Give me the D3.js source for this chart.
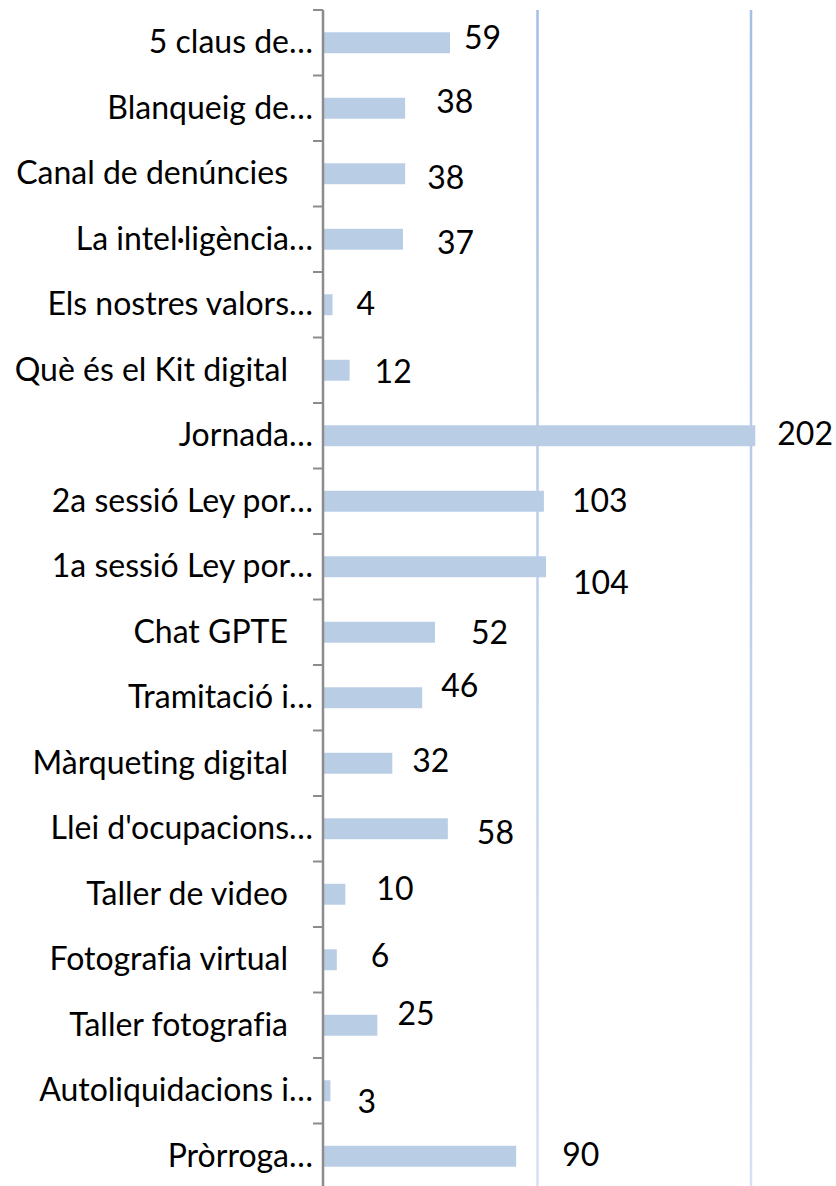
<!DOCTYPE html>
<html>
<head>
<meta charset="utf-8">
<script src="https://cdn.jsdelivr.net/npm/d3@7"></script>
<style>
  body { margin: 0; background: #fff; }
  text { font-family: Lato, "Open Sans", sans-serif; fill: #000; font-variant-ligatures: none; }
</style>
</head>
<body>
<div id="chart"></div>
<script>
// Categories, top to bottom
const categories = [
  "5 claus de…",
  "Blanqueig de…",
  "Canal de denúncies ",
  "La intel·ligència…",
  "Els nostres valors…",
  "Què és el Kit digital ",
  "Jornada…",
  "2a sessió Ley por…",
  "1a sessió Ley por…",
  "Chat GPTE ",
  "Tramitació i…",
  "Màrqueting digital ",
  "Llei d'ocupacions…",
  "Taller de video ",
  "Fotografia virtual ",
  "Taller fotografia ",
  "Autoliquidacions i…",
  "Pròrroga…"
];

// Attendees per session
const values = [59, 38, 38, 37, 4, 12, 202, 103, 104, 52, 46, 32, 58, 10, 6, 25, 3, 90];

// Gridline values on the x axis
const gridValues = [100, 200];

// Hand-moved data labels: gap after bar end, baseline shift from bar centre (px)
const labelDx = [14, 31, 22, 34, 24, 25, 22, 28, 27, 36, 19, 20, 29, 31, 34, 20, 27, 46];
const labelDy = [6, 5, 15, 15, 10, 13, 9, 11, 27, 12, -1, 9, 15, 6, 7, 0, 22, 10];

const width = 836;
const height = 1186;
const fontSize = 32;

const svg = d3.select('#chart')
  .append('svg')
  .attr('width', width)
  .attr('height', height);

const x = d3.scaleLinear()
  .domain([0, 200])
  .range([324, 751]);

const y = d3.scaleBand()
  .domain(categories)
  .range([10, 1189])
  .paddingInner(0.68)
  .paddingOuter(0.34);

const step = y.step();

// gridlines fade towards the bottom
const defs = svg.append('defs');
const grad = defs.append('linearGradient')
  .attr('id', 'gridFade')
  .attr('gradientUnits', 'userSpaceOnUse')
  .attr('x1', 0).attr('y1', 10)
  .attr('x2', 0).attr('y2', 1189);
grad.append('stop').attr('offset', '0%').attr('stop-color', '#a6bee6');
grad.append('stop').attr('offset', '100%').attr('stop-color', '#d6e1f3');

svg.append('g')
  .selectAll('rect')
  .data(gridValues)
  .join('rect')
  .attr('x', d => x(d) - 1.25)
  .attr('y', 10)
  .attr('width', 2.5)
  .attr('height', 1179)
  .attr('fill', 'url(#gridFade)');

// bars
svg.append('g')
  .selectAll('rect')
  .data(values)
  .join('rect')
  .attr('x', x(0))
  .attr('y', (d, i) => y(categories[i]))
  .attr('width', d => x(d) - x(0))
  .attr('height', y.bandwidth())
  .attr('fill', '#b9cde5');

// category axis: ticks sit on band boundaries
const axis = d3.axisLeft(y)
  .tickSize(10)
  .tickFormat('');

const axisG = svg.append('g')
  .attr('transform', `translate(${x(0) - 1},${-step / 2})`)
  .call(axis);
axisG.select('.domain').remove();
axisG.selectAll('.tick line')
  .attr('stroke', '#8c8c8c')
  .attr('stroke-width', 2);

svg.append('line')
  .attr('x1', x(0) - 1)
  .attr('x2', x(0) - 1)
  .attr('y1', 10)
  .attr('y2', height)
  .attr('stroke', '#8c8c8c')
  .attr('stroke-width', 2.5);

// category labels
svg.append('g')
  .selectAll('text')
  .data(categories)
  .join('text')
  .attr('x', d => d.endsWith(' ') ? 288 : 313)
  .attr('y', d => y(d) + y.bandwidth() / 2)
  .attr('dy', '0.33em')
  .attr('text-anchor', 'end')
  .style('font-size', fontSize + 'px')
  .text(d => d.trim());

// value labels
svg.append('g')
  .selectAll('text')
  .data(values)
  .join('text')
  .attr('x', (d, i) => x(d) + labelDx[i])
  .attr('y', (d, i) => y(categories[i]) + y.bandwidth() / 2 + labelDy[i])
  .style('font-size', fontSize + 'px')
  .text(d => d);
</script>
</body>
</html>
